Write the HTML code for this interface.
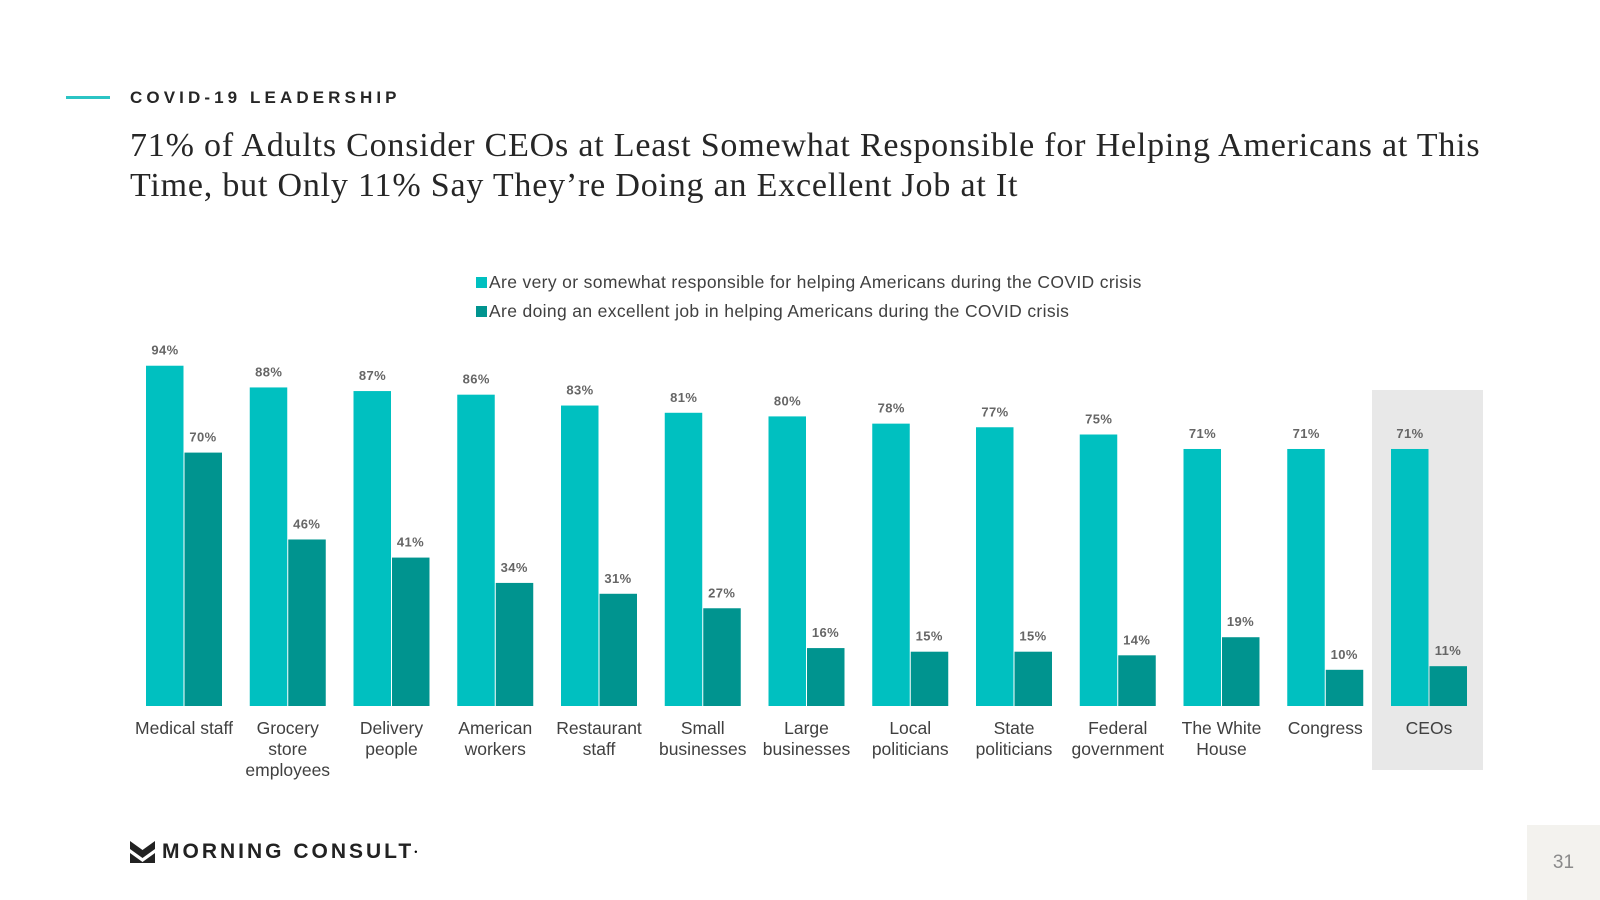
<!DOCTYPE html>
<html><head><meta charset="utf-8"><style>
body{margin:0;width:1600px;height:900px;background:#fff;position:relative;overflow:hidden;font-family:"Liberation Sans",sans-serif}
.abs{position:absolute}
</style></head><body>
<div class="abs" style="left:66px;top:96px;width:44px;height:3px;background:#2bc4c4"></div>
<div class="abs" style="left:130px;top:88px;font-size:17px;font-weight:bold;letter-spacing:4.1px;color:#262626">COVID-19 LEADERSHIP</div>
<div class="abs" style="left:130px;top:126px;width:1460px;font-family:'Liberation Serif',serif;font-size:34px;line-height:40px;letter-spacing:0.8px;color:#262626">71% of Adults Consider CEOs at Least Somewhat Responsible for Helping Americans at This<br>Time, but Only 11% Say They’re Doing an Excellent Job at It</div>
<div class="abs" style="left:1527px;top:825px;width:73px;height:75px;background:#f3f2ee"></div>
<div class="abs" style="left:1527px;top:852px;width:73px;text-align:center;font-size:19px;color:#8a8a8a">31</div>
<div class="abs" style="left:130px;top:840px;height:24px;display:flex;align-items:center">
<svg width="25" height="22" viewBox="0 0 25 22"><path d="M0 0 L12.5 9 L25 0 L25 8 L12.5 17 L0 8Z M0 12 L12.5 21 L25 12 L25 22 L0 22Z" fill="#222"/></svg>
<span style="margin-left:7px;font-weight:bold;font-size:21px;letter-spacing:3px;color:#222">MORNING CONSULT</span><sup style="font-size:9px">•</sup></div>
<svg class="abs" style="left:0;top:0" width="1600" height="900" id="chart"></svg>
<script>
const categories=[["Medical staff"],["Grocery","store","employees"],["Delivery","people"],["American","workers"],["Restaurant","staff"],["Small","businesses"],["Large","businesses"],["Local","politicians"],["State","politicians"],["Federal","government"],["The White","House"],["Congress"],["CEOs"]];
const responsible=[94,88,87,86,83,81,80,78,77,75,71,71,71];
const excellent=[70,46,41,34,31,27,16,15,15,14,19,10,11];
const seriesNames=["Are very or somewhat responsible for helping Americans during the COVID crisis","Are doing an excellent job in helping Americans during the COVID crisis"];
const svg=document.getElementById('chart');const NS="http://www.w3.org/2000/svg";
const base=706,scale=3.62,x0=184,step=103.75,bw=38;
const xc=i=>x0+i*step, y=v=>base-v*scale;
function mk(t,a,p){const e=document.createElementNS(NS,t);for(const k in a)e.setAttribute(k,a[k]);(p||svg).appendChild(e);return e;}
const hl=mk('rect',{x:xc(12)-57,y:390,width:111,height:380,fill:'#e8e8e8'});


const colors=['#00c0c0','#00948f'];
seriesNames.forEach((n,k)=>{
 const r=mk('rect',{x:476,y:277+k*29,width:11,height:11,fill:colors[k]});
 
 
 const t=mk('text',{x:489,y:288+k*29,'font-size':17.5,'letter-spacing':0.35,fill:'#404040'});t.textContent=n;
 
 
});
categories.forEach((c,i)=>{
 [responsible[i],excellent[i]].forEach((v,k)=>{
  const bx=xc(i)-bw+k*bw;
  const r=mk('rect',{x:bx+(k?0.5:0),y:y(v),width:bw-0.5,height:v*scale,fill:colors[k]});
  
  
  const t=mk('text',{x:bx+bw/2,y:y(v)-11,'font-size':13,'font-weight':'bold','letter-spacing':0.4,'text-anchor':'middle',fill:'#666'});
  t.textContent=v+'%';
  
  
 });
 c.forEach((l,j)=>{
  const t=mk('text',{x:xc(i),y:734+j*21,'font-size':17.5,'text-anchor':'middle',fill:'#404040'});
  t.textContent=l;
  
  
 });
});
</script>
</body></html>
